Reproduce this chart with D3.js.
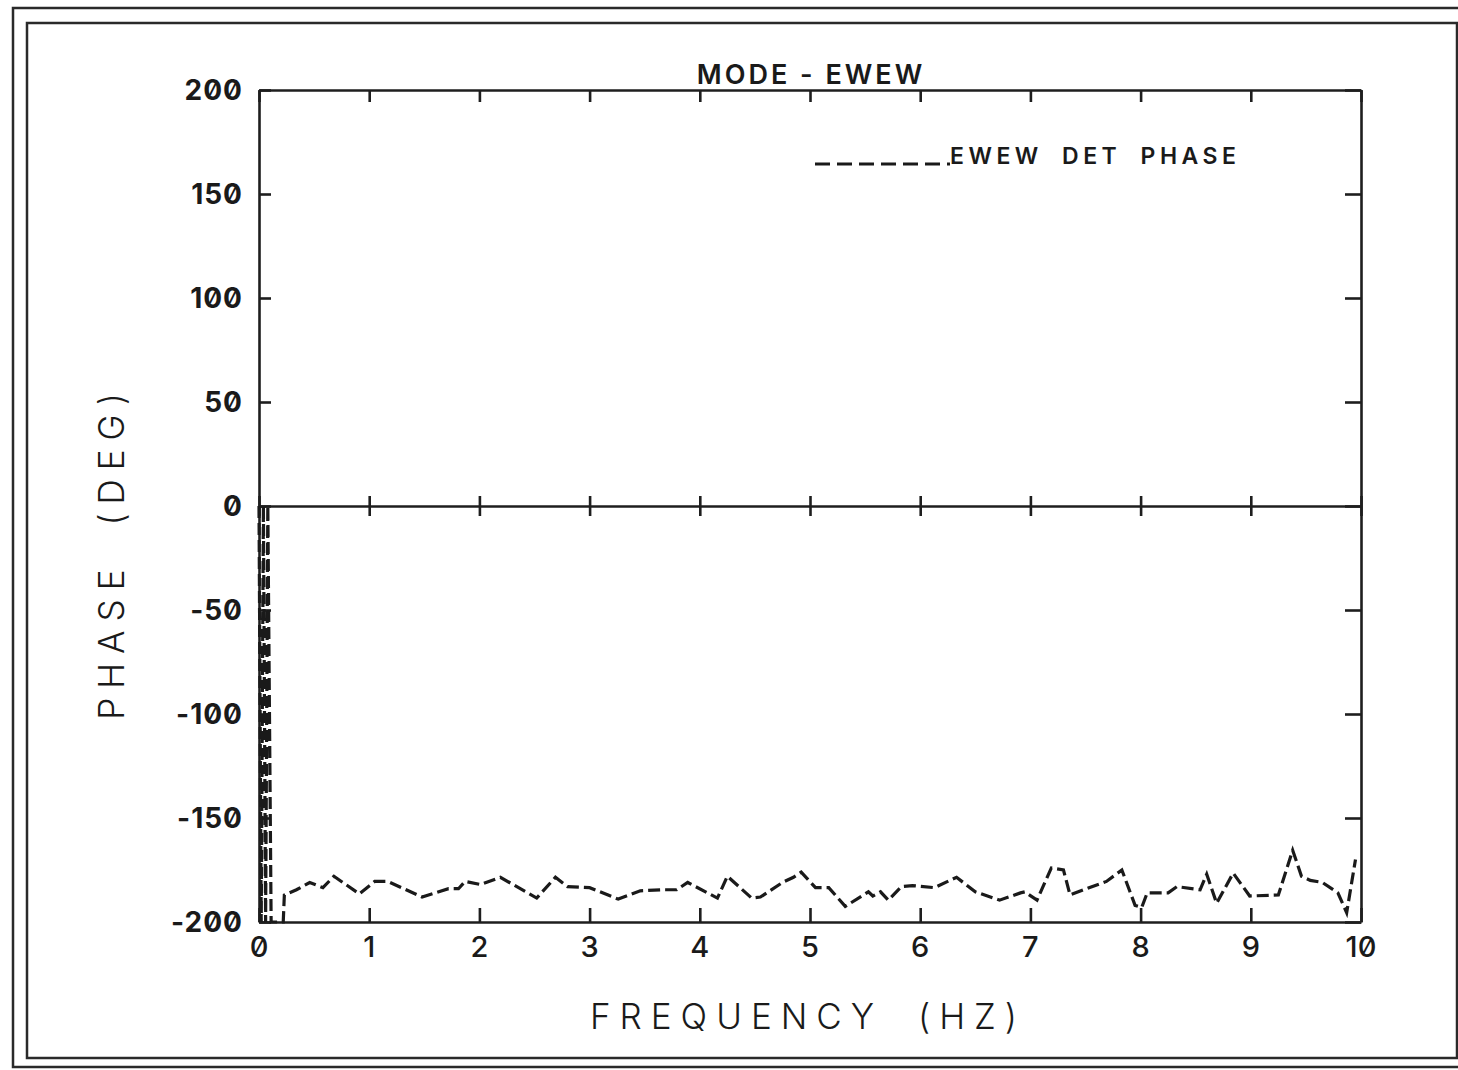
<!DOCTYPE html>
<meta charset="utf-8">
<title>Mode - EWEW phase</title>
<style>

body {
  margin: 0px;
  background: #fff;
}

svg {
  background-color: #fff;
}

text {
  fill: #1a1a1a;
  font-family: Inter, "DejaVu Sans", sans-serif;
  font-feature-settings: "zero" 1;
}

.frame {
  fill: none;
  stroke: #2a2a2a;
  stroke-width: 2.5px;
}

.axis line, .axis path {
  stroke: #1e1e1e;
  stroke-width: 2.6px;
  fill: none;
}

.trace {
  fill: none;
  stroke: #1a1a1a;
  stroke-width: 3.2px;
  stroke-dasharray: 12, 5;
}

</style>

<script src="https://d3js.org/d3.v7.min.js"></script>

<body>
<script>

var width = 1458, height = 1070;

// frequency (Hz) and phase (deg)
var freq = [0, 0.02, 0.04, 0.06, 0.08, 0.11, 0.22, 0.23,
  0.34, 0.46, 0.58, 0.68, 0.91, 1.05, 1.17, 1.48, 1.72, 1.81, 1.87,
  2.01, 2.19, 2.52, 2.69, 2.80, 3.00, 3.26, 3.46, 3.66, 3.79, 3.89,
  4.16, 4.25, 4.47, 4.55, 4.75, 4.85, 4.92, 5.05, 5.17, 5.32, 5.53,
  5.57, 5.64, 5.71, 5.83, 5.93, 6.13, 6.33, 6.50, 6.72, 6.91, 6.95,
  7.06, 7.19, 7.30, 7.36, 7.51, 7.69, 7.83, 7.95, 8.01, 8.06, 8.18,
  8.25, 8.33, 8.54, 8.60, 8.69, 8.84, 8.99, 9.25, 9.38, 9.46, 9.54,
  9.65, 9.79, 9.87, 9.95];
var phase = [0, -200, 0, -200, 0, -200, -200, -187,
  -184.5, -181, -183.5, -178, -186.5, -180.5, -180.5, -188, -184, -184, -180.5,
  -182, -178.5, -188.5, -178.5, -183, -183.5, -189, -185, -184.5, -184.5, -181,
  -188.5, -178, -188.5, -188, -181, -178.5, -176, -183.5, -183.5, -192.5, -185.5,
  -187.5, -185.5, -189.5, -183, -182.5, -183.5, -178.5, -185.5, -189.5, -186, -185.5,
  -189.5, -174, -175, -187, -184, -180.5, -175, -192, -193, -186, -186,
  -186, -183, -184.5, -177, -191, -176.5, -187.5, -187, -165.5, -178, -180,
  -181, -186, -195.5, -170];

var xTicks = [0, 1, 2, 3, 4, 5, 6, 7, 8, 9, 10];
var yTicks = [200, 150, 100, 50, 0, -50, -100, -150, -200];

var title = "MODE - EWEW";
var legendLabel = "EWEW DET PHASE";
var xTitle = "FREQUENCY (HZ)";
var yTitle = "PHASE (DEG)";

var svg = d3.select("body").append("svg")
    .attr("width", width)
    .attr("height", height);

// double frame round the sheet
svg.append("rect").attr("class", "frame")
    .attr("x", 13).attr("y", 8).attr("width", 1470).attr("height", 1059);
svg.append("rect").attr("class", "frame")
    .attr("x", 27).attr("y", 23).attr("width", 1430).attr("height", 1035);

var x = d3.scaleLinear().domain([0, 10]).range([259, 1361]);
var y = d3.scaleLinear().domain([-200, 200]).range([922, 90]);

var fmt = function(d) { return String(d).replace("\u2212", "-"); };

// bottom axis, ticks pointing up
svg.append("g").attr("class", "axis")
    .attr("transform", "translate(0," + y(-200) + ")")
    .call(d3.axisBottom(x).tickValues(xTicks).tickSize(-14).tickSizeOuter(0).tickFormat(""));

// top axis, ticks pointing down
svg.append("g").attr("class", "axis")
    .attr("transform", "translate(0," + y(200) + ")")
    .call(d3.axisTop(x).tickValues(xTicks).tickSize(-12).tickSizeOuter(0).tickFormat(""));

// zero line with crossing ticks
var zero = svg.append("g").attr("class", "axis")
    .attr("transform", "translate(0," + y(0) + ")");
zero.call(d3.axisTop(x).tickValues(xTicks).tickSize(10).tickSizeOuter(0).tickFormat(""));
zero.selectAll(".tick").append("line").attr("y2", 10);

// left & right axes, ticks inward
svg.append("g").attr("class", "axis")
    .attr("transform", "translate(" + x(0) + ",0)")
    .call(d3.axisLeft(y).tickValues(yTicks).tickSize(-12).tickSizeOuter(0).tickFormat(""));
svg.append("g").attr("class", "axis")
    .attr("transform", "translate(" + x(10) + ",0)")
    .call(d3.axisRight(y).tickValues(yTicks).tickSize(-16).tickSizeOuter(0).tickFormat(""));

// tick labels
svg.append("g").selectAll("text")
    .data(yTicks)
  .enter().append("text")
    .attr("x", 243)
    .attr("y", function(d) { return y(d); })
    .attr("dy", "0.36em")
    .attr("text-anchor", "end")
    .style("font-size", "28px")
    .style("font-weight", 700)
    .style("letter-spacing", "1px")
    .text(fmt);

svg.append("g").selectAll("text")
    .data(xTicks)
  .enter().append("text")
    .attr("x", function(d) { return x(d); })
    .attr("y", 957)
    .attr("text-anchor", "middle")
    .style("font-size", "29px")
    .style("font-weight", 500)
    .text(fmt);

// the trace
var line = d3.line()
    .x(function(d, i) { return x(freq[i]); })
    .y(function(d) { return y(d); });

svg.append("path")
    .datum(phase)
    .attr("class", "trace")
    .attr("d", line);

// title
svg.append("text")
    .attr("x", 811).attr("y", 84)
    .attr("text-anchor", "middle")
    .style("font-size", "27px")
    .style("font-weight", 600)
    .style("letter-spacing", "3px")
    .text(title);

// legend
svg.append("line")
    .attr("x1", 815).attr("x2", 950)
    .attr("y1", 164).attr("y2", 164)
    .attr("stroke", "#1a1a1a")
    .attr("stroke-width", 3)
    .attr("stroke-dasharray", "15,7");
svg.append("text")
    .attr("x", 950).attr("y", 164)
    .style("font-size", "23px")
    .style("font-weight", 600)
    .style("letter-spacing", "4.5px")
    .style("word-spacing", "9px")
    .text(legendLabel);

// axis titles
svg.append("text")
    .attr("x", 808).attr("y", 1029)
    .attr("text-anchor", "middle")
    .style("font-size", "35px")
    .style("font-weight", 300)
    .style("letter-spacing", "9px")
    .style("word-spacing", "16px")
    .text(xTitle);

svg.append("text")
    .attr("transform", "translate(124,552) rotate(-90)")
    .attr("text-anchor", "middle")
    .style("font-size", "35px")
    .style("font-weight", 300)
    .style("letter-spacing", "9px")
    .style("word-spacing", "16px")
    .text(yTitle);

</script>
